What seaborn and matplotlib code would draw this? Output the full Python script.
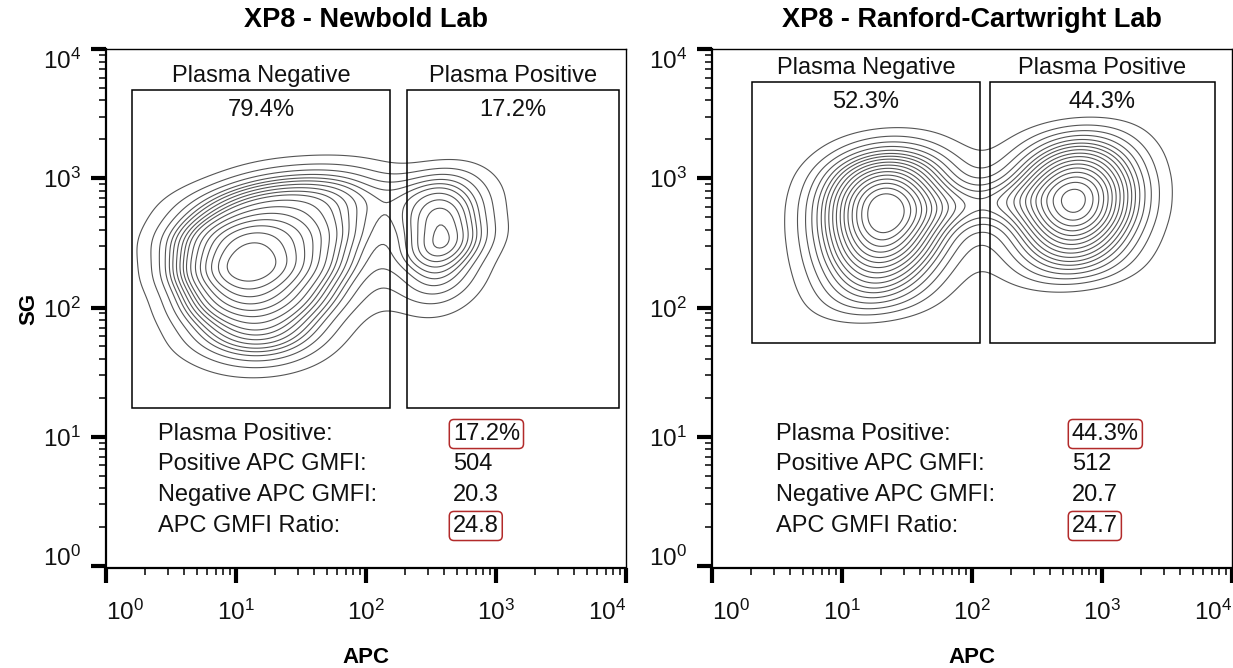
import numpy as np
import pandas as pd
import matplotlib
matplotlib.use("Agg")
import matplotlib.pyplot as plt
import seaborn as sns
from matplotlib.patches import Rectangle
from matplotlib.ticker import FixedLocator, LogFormatterSciNotation, NullFormatter

# ---------------- data ----------------
titles = ["XP8 - Newbold Lab", "XP8 - Ranford-Cartwright Lab"]

# Newbold: plasma-negative population read as a grid of event weights
# (rows = log10 SG, columns = log10 APC) plus plasma-positive events
newbold_neg_log_apc = [0.50, 0.75, 1.05, 1.35, 1.65, 1.95]
newbold_neg_log_sg = [1.60, 1.80, 2.05, 2.30, 2.55, 2.80, 3.00]
newbold_neg_weight = [[0.0, 0.2, 0.8, 0.9, 0.3, 0.0],
                      [0.0, 1.2, 2.4, 2.2, 0.9, 0.0],
                      [0.0, 2.5, 4.0, 3.2, 1.8, 0.5],
                      [0.5, 3.5, 6.0, 4.2, 2.6, 1.0],
                      [0.8, 3.0, 4.8, 3.8, 2.8, 1.5],
                      [0.4, 1.2, 2.4, 2.6, 2.4, 1.6],
                      [0.0, 0.0, 0.6, 1.0, 1.2, 1.0]]
newbold_pos_log_apc = [2.56, 2.56, 2.56, 2.56, 2.30, 2.56, 2.78, 2.78]
newbold_pos_log_sg = [2.20, 2.45, 2.70, 2.95, 2.85, 1.98, 2.55, 2.85]
newbold_pos_weight = [2.6, 4.4, 4.0, 2.4, 0.9, 0.8, 1.0, 0.8]

# Ranford-Cartwright: two columns of events per population
# (weight[i][j]: column log_apc[i], row log_sg[j])
rc_neg_log_apc = [1.18, 1.48]
rc_neg_log_sg = [2.05, 2.25, 2.45, 2.65, 2.85, 3.05, 3.25]
rc_neg_weight = [[1.2, 1.8, 2.4, 2.8, 2.8, 2.0, 0.6],
                 [0.5, 1.1, 2.0, 2.6, 2.6, 1.9, 0.6]]
rc_pos_log_apc = [2.66, 2.93]
rc_pos_log_sg = [2.30, 2.50, 2.70, 2.90, 3.10, 3.30]
rc_pos_weight = [[1.0, 1.8, 2.5, 2.6, 1.9, 0.8],
                 [0.9, 1.6, 2.5, 2.6, 1.9, 0.9]]
rc_bridge_log_apc = [2.07]
rc_bridge_log_sg = [2.80]
rc_bridge_weight = [1.5]

# gates [APC min, APC max, SG min, SG max]
newbold_gates = [[1.58, 153, 16.7, 4810], [207, 8900, 16.7, 4810]]
rc_gates = [[2.03, 115, 53, 5550], [137, 7400, 53, 5550]]

gate_names = ["Plasma Negative", "Plasma Positive"]
newbold_gate_pct = ["79.4%", "17.2%"]
rc_gate_pct = ["52.3%", "44.3%"]

stat_labels = ["Plasma Positive:", "Positive APC GMFI:", "Negative APC GMFI:", "APC GMFI Ratio:"]
newbold_stats = ["17.2%", "504", "20.3", "24.8"]
rc_stats = ["44.3%", "512", "20.7", "24.7"]
stat_boxed = [True, False, False, True]

decades = [1, 10, 100, 1000, 10000]


# ---------------- event tables ----------------
def columns_table(log_apc, log_sg, weight):
    """weight[i][j]: column log_apc[i], row log_sg[j]"""
    ax_, ay_ = np.meshgrid(log_apc, log_sg, indexing="ij")
    return ax_.ravel(), ay_.ravel(), np.asarray(weight, float).ravel()


gx, gy = np.meshgrid(newbold_neg_log_apc, newbold_neg_log_sg)
newbold_df = pd.DataFrame({
    "APC": 10 ** np.concatenate([gx.ravel(), newbold_pos_log_apc]),
    "SG": 10 ** np.concatenate([gy.ravel(), newbold_pos_log_sg]),
    "w": np.concatenate([np.asarray(newbold_neg_weight).ravel(), newbold_pos_weight]),
})
newbold_df = newbold_df[newbold_df["w"] > 0]

nx, ny, nw = columns_table(rc_neg_log_apc, rc_neg_log_sg, rc_neg_weight)
px, py, pw = columns_table(rc_pos_log_apc, rc_pos_log_sg, rc_pos_weight)
rc_df = pd.DataFrame({
    "APC": 10 ** np.concatenate([nx, px, rc_bridge_log_apc]),
    "SG": 10 ** np.concatenate([ny, py, rc_bridge_log_sg]),
    "w": np.concatenate([nw, pw, rc_bridge_weight]),
})

# ---------------- style ----------------
sns.set_style("ticks")
plt.rcParams["font.family"] = ["Liberation Sans", "DejaVu Sans"]
plt.rcParams["mathtext.fontset"] = "custom"
plt.rcParams["mathtext.rm"] = "Liberation Sans"
plt.rcParams["mathtext.it"] = "Liberation Sans:italic"
plt.rcParams["mathtext.bf"] = "Liberation Sans:bold"
plt.rcParams["text.color"] = "black"
plt.rcParams["axes.labelcolor"] = "black"
plt.rcParams["xtick.color"] = "black"
plt.rcParams["ytick.color"] = "black"

fig = plt.figure(figsize=(12.33, 6.68), dpi=100)
W, H = 1233, 668
ax_l = fig.add_axes([106 / W, (H - 568) / H, 520 / W, 519 / H])
ax_r = fig.add_axes([712 / W, (H - 568) / H, 520 / W, 519 / H])

stat_rows = [0.2466, 0.1888, 0.1291, 0.0694]


def draw_panel(ax, title, df, gates, pcts, stats, lab_x, val_x, show_ylabel, bw):
    sns.kdeplot(data=df, x="APC", y="SG", weights="w", log_scale=True,
                levels=18, thresh=0.05, bw_method=bw,
                color="#555555", linewidths=0.8, ax=ax)

    ax.set_xlim(1, 1e4)
    ax.set_ylim(10 ** -0.015, 1e4)

    # gates
    for (x0, x1, y0, y1), name, pct in zip(gates, gate_names, pcts):
        ax.add_patch(Rectangle((x0, y0), x1 - x0, y1 - y0, fill=False,
                               edgecolor="black", linewidth=1.1, zorder=3))
        xc = np.sqrt(x0 * x1)
        ax.annotate(name, xy=(xc, y1), xytext=(0, 9.8), textcoords="offset points",
                    ha="center", va="center", fontsize=17, color="#111111")
        ax.annotate(pct, xy=(xc, y1), xytext=(0, -14.5), textcoords="offset points",
                    ha="center", va="center", fontsize=17, color="#111111")

    # statistics
    for lab, val, yv, boxed in zip(stat_labels, stats, stat_rows, stat_boxed):
        ax.text(lab_x, yv, lab, transform=ax.transAxes, fontsize=17,
                va="baseline", ha="left", color="#111111")
        kw = {}
        if boxed:
            kw["bbox"] = dict(boxstyle="round,pad=0.15,rounding_size=0.2",
                              facecolor="white", edgecolor="#b22a2a", linewidth=1.1)
        ax.text(val_x, yv, val, transform=ax.transAxes, fontsize=17,
                va="baseline", ha="left", color="#111111", **kw)

    # axes styling
    for s in ["left", "bottom"]:
        ax.spines[s].set_linewidth(1.6)
    for s in ["top", "right"]:
        ax.spines[s].set_visible(True)
        ax.spines[s].set_linewidth(1.0)
    for s in ax.spines.values():
        s.set_color("black")

    ax.xaxis.set_major_locator(FixedLocator(decades))
    ax.yaxis.set_major_locator(FixedLocator(decades))
    ax.xaxis.set_major_formatter(LogFormatterSciNotation())
    ax.yaxis.set_major_formatter(LogFormatterSciNotation())
    ax.xaxis.set_minor_formatter(NullFormatter())
    ax.yaxis.set_minor_formatter(NullFormatter())
    ax.tick_params(which="major", length=11, width=3, direction="out",
                   labelsize=17.5, color="black", labelcolor="#111111")
    ax.tick_params(which="minor", length=5, width=1.1, direction="out", color="black")
    ax.tick_params(axis="x", which="major", pad=12)
    ax.tick_params(axis="y", which="major", pad=7)

    ax.set_title(title, fontsize=19.5, fontweight="bold", pad=16, color="black")
    ax.set_xlabel("APC", fontsize=16, fontweight="bold")
    ax.xaxis.set_label_coords(0.5, -0.152)
    ax.xaxis.label.set_va("top")
    if show_ylabel:
        ax.set_ylabel("SG", fontsize=16, fontweight="bold")
        ax.yaxis.set_label_coords(-0.129, 0.5)
    else:
        ax.set_ylabel("")

    xl = ax.get_xticklabels()
    xl[0].set_ha("left")
    xl[-1].set_ha("right")
    yl = ax.get_yticklabels()
    yl[0].set_va("baseline")
    yl[-1].set_va("top")


draw_panel(ax_l, titles[0], newbold_df, newbold_gates, newbold_gate_pct, newbold_stats,
           0.100, 0.667, True, 0.40)
draw_panel(ax_r, titles[1], rc_df, rc_gates, rc_gate_pct, rc_stats,
           0.123, 0.692, False, 0.42)

fig.savefig("out.png", dpi=100, facecolor="white")
